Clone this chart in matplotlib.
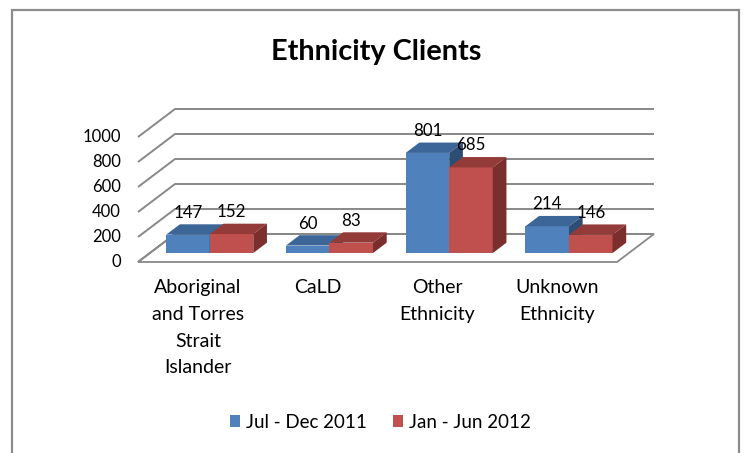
import matplotlib
matplotlib.use("Agg")
import matplotlib.pyplot as plt
from matplotlib.patches import Polygon, Rectangle, Patch

# ---------------- data ----------------
categories = ["Aboriginal\nand Torres\nStrait\nIslander", "CaLD", "Other\nEthnicity", "Unknown\nEthnicity"]
series_names = ["Jul - Dec 2011", "Jan - Jun 2012"]
jul_dec_2011 = [147, 60, 801, 214]
jan_jun_2012 = [152, 83, 685, 146]
y_ticks = [0, 200, 400, 600, 800, 1000]
title = "Ethnicity Clients"

# ---------------- style / layout ----------------
W, H = 744, 453
X0, Y0 = 138, 262          # front-left floor corner (px)
CAT_PX = 119.75            # px per category
VAL_PX = 0.125             # px per value unit
DEPTH_DX, DEPTH_DY = 37, 28
Z0, Z1 = 0.32, 0.69        # bar depth span (fraction of floor depth)
GAP = 0.75                 # gap width relative to bar width
FONT = "Lato"
GRID = "#888888"
face_cols = [("#4F81BD", "#3C6697", "#2E4D74"),
             ("#C0504D", "#933B39", "#7B2F2D")]

plt.rcParams["font.family"] = [FONT, "DejaVu Sans"]

fig = plt.figure(figsize=(W / 100, H / 100), dpi=100)
ax = fig.add_axes([0, 0, 1, 1])
ax.axis("off")
ax.set_xlim(-X0 / CAT_PX, (W - X0) / CAT_PX)
ax.set_ylim(-(H - Y0) / VAL_PX, Y0 / VAL_PX)

DXU = DEPTH_DX / CAT_PX
DYV = DEPTH_DY / VAL_PX
ncat = len(categories)


def P(u, v, z):
    return (u + z * DXU, v + z * DYV)


# chart border
fig.patches.append(Rectangle((12 / W, -0.1), (739 - 12) / W, 1.1 - 10 / H,
                             transform=fig.transFigure, fill=False,
                             edgecolor="#8C8C8C", linewidth=1.6))

# floor
floor = Polygon([P(0, 0, 0), P(ncat, 0, 0), P(ncat, 0, 1), P(0, 0, 1)],
                closed=True, facecolor="white", edgecolor=GRID, linewidth=1.3, zorder=1)
ax.add_patch(floor)

# gridlines (side wall + back wall)
for t in y_ticks:
    pts = [P(0, t, 0), P(0, t, 1), P(ncat, t, 1)]
    ax.plot([p[0] for p in pts], [p[1] for p in pts], color=GRID, lw=1.4,
            solid_capstyle="butt", zorder=2)
    ax.annotate(str(t), xy=P(0, t, 0), xytext=(-17, 0), textcoords="offset pixels",
                ha="right", va="center", fontsize=12, color="black")

# bars
bw = 1.0 / (2 + GAP)
for i in range(ncat):
    for s, vals in enumerate([jul_dec_2011, jan_jun_2012]):
        v = vals[i]
        ul = i + GAP * bw / 2 + s * bw
        ur = ul + bw
        front, top, side = face_cols[s]
        z = 3 + i * 2 + s
        ax.add_patch(Polygon([P(ul, 0, Z0), P(ur, 0, Z0), P(ur, v, Z0), P(ul, v, Z0)],
                             closed=True, facecolor=front, edgecolor="none", zorder=z))
        ax.add_patch(Polygon([P(ul, v, Z0), P(ur, v, Z0), P(ur, v, Z1), P(ul, v, Z1)],
                             closed=True, facecolor=top, edgecolor="none", zorder=z))
        ax.add_patch(Polygon([P(ur, 0, Z0), P(ur, 0, Z1), P(ur, v, Z1), P(ur, v, Z0)],
                             closed=True, facecolor=side, edgecolor="none", zorder=z))
        ax.annotate(str(v), xy=P((ul + ur) / 2, v, Z0), xytext=(0, 22),
                    textcoords="offset pixels", ha="center", va="center",
                    fontsize=12.2, color="black", zorder=20)

# category labels
for i, c in enumerate(categories):
    ax.annotate(c, xy=P(i + 0.5, 0, 0), xytext=(0, -17), textcoords="offset pixels",
                ha="center", va="top", multialignment="center", fontsize=14,
                linespacing=1.7, color="black")

# title
fig.text(376 / W, 1 - 52 / H, title, ha="center", va="center",
         fontsize=20.8, fontweight="bold", color="black")

# legend
handles = [Patch(facecolor=face_cols[k][0], edgecolor="none") for k in range(2)]
fig.legend(handles, series_names, loc="center", bbox_to_anchor=(380 / W, 1 - 422 / H),
           ncol=2, frameon=False, fontsize=13.5, handlelength=0.55, handleheight=0.55,
           handletextpad=0.3, columnspacing=1.4, borderpad=0)

fig.savefig("out.png", dpi=100)
